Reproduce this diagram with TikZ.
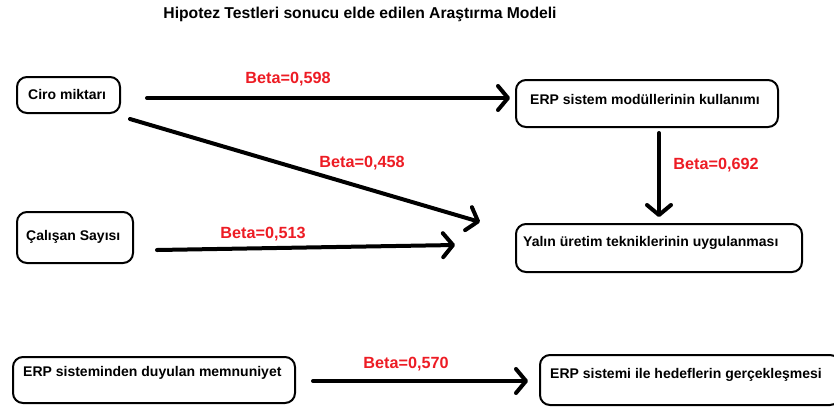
\documentclass[tikz,border=0pt]{standalone}
\usepackage{fontspec}
\setmainfont{Liberation Sans}
\usetikzlibrary{arrows.meta}
\definecolor{betared}{RGB}{237,28,36}
\tikzset{
  box/.style={draw=black, line width=2pt, rounded corners=10pt, inner sep=0pt},
  txt/.style={font=\fontsize{14}{16}\selectfont\bfseries, text=black, inner sep=0pt, anchor=west},
  beta/.style={font=\fontsize{16.2}{18}\selectfont\bfseries, text=betared, inner sep=0pt},
  arr/.style={line width=4pt, line cap=round, line join=round, -{Straight Barb[length=10pt,width=24pt,line cap=round,line join=round]}}
}
\begin{document}
\begin{tikzpicture}[x=1pt,y=-1pt]
\useasboundingbox (0,0) rectangle (834,408);
\node[font=\fontsize{15.7}{17}\selectfont\bfseries, inner sep=0pt] (title) at (360,14) {Hipotez Testleri sonucu elde edilen Araştırma Modeli};
% boxes
\node[box, minimum width=103pt, minimum height=36pt] (b1) at (68.5,95) {};
\node[txt] (t1) at (28,94.5) {Ciro miktarı};
\node[box, minimum width=262pt, minimum height=47pt] (b2) at (647,103.5) {};
\node[txt] (t2) at (530,99) {ERP sistem modüllerinin kullanımı};
\node[box, minimum width=116pt, minimum height=51pt] (b3) at (75,237.5) {};
\node[txt] (t3) at (26,237) {Çalışan Sayısı};
\node[box, minimum width=286pt, minimum height=48pt] (b4) at (659,248) {};
\node[txt] (t4) at (523,243) {Yalın üretim tekniklerinin uygulanması};
\node[box, minimum width=282pt, minimum height=46pt] (b5) at (154,380) {};
\node[txt] (t5) at (23,373) {ERP sisteminden duyulan memnuniyet};
\node[box, minimum width=300pt, minimum height=50pt] (b6) at (690,380) {};
\node[txt] (t6) at (550,375) {ERP sistemi ile hedeflerin gerçekleşmesi};
% connector ends
\coordinate (a1s) at (147,98);  \coordinate (a1e) at (510,98);
\coordinate (a2s) at (130,119); \coordinate (a2e) at (480,222);
\coordinate (a3s) at (157,250); \coordinate (a3e) at (455,245);
\coordinate (a4s) at (659,133); \coordinate (a4e) at (659,217);
\coordinate (a5s) at (313,381); \coordinate (a5e) at (528,381);
\draw[arr] (a1s) -- (a1e);
\draw[arr] (a2s) -- (a2e);
\draw[arr] (a3s) -- (a3e);
\draw[arr] (a4s) -- (a4e);
\draw[arr] (a5s) -- (a5e);
% labels
\node[beta] (l1) at (288,79) {Beta=0,598};
\node[beta] (l2) at (362,163) {Beta=0,458};
\node[beta] (l3) at (263,234) {Beta=0,513};
\node[beta] (l4) at (716,165) {Beta=0,692};
\node[beta] (l5) at (406,364) {Beta=0,570};
\end{tikzpicture}
\end{document}
